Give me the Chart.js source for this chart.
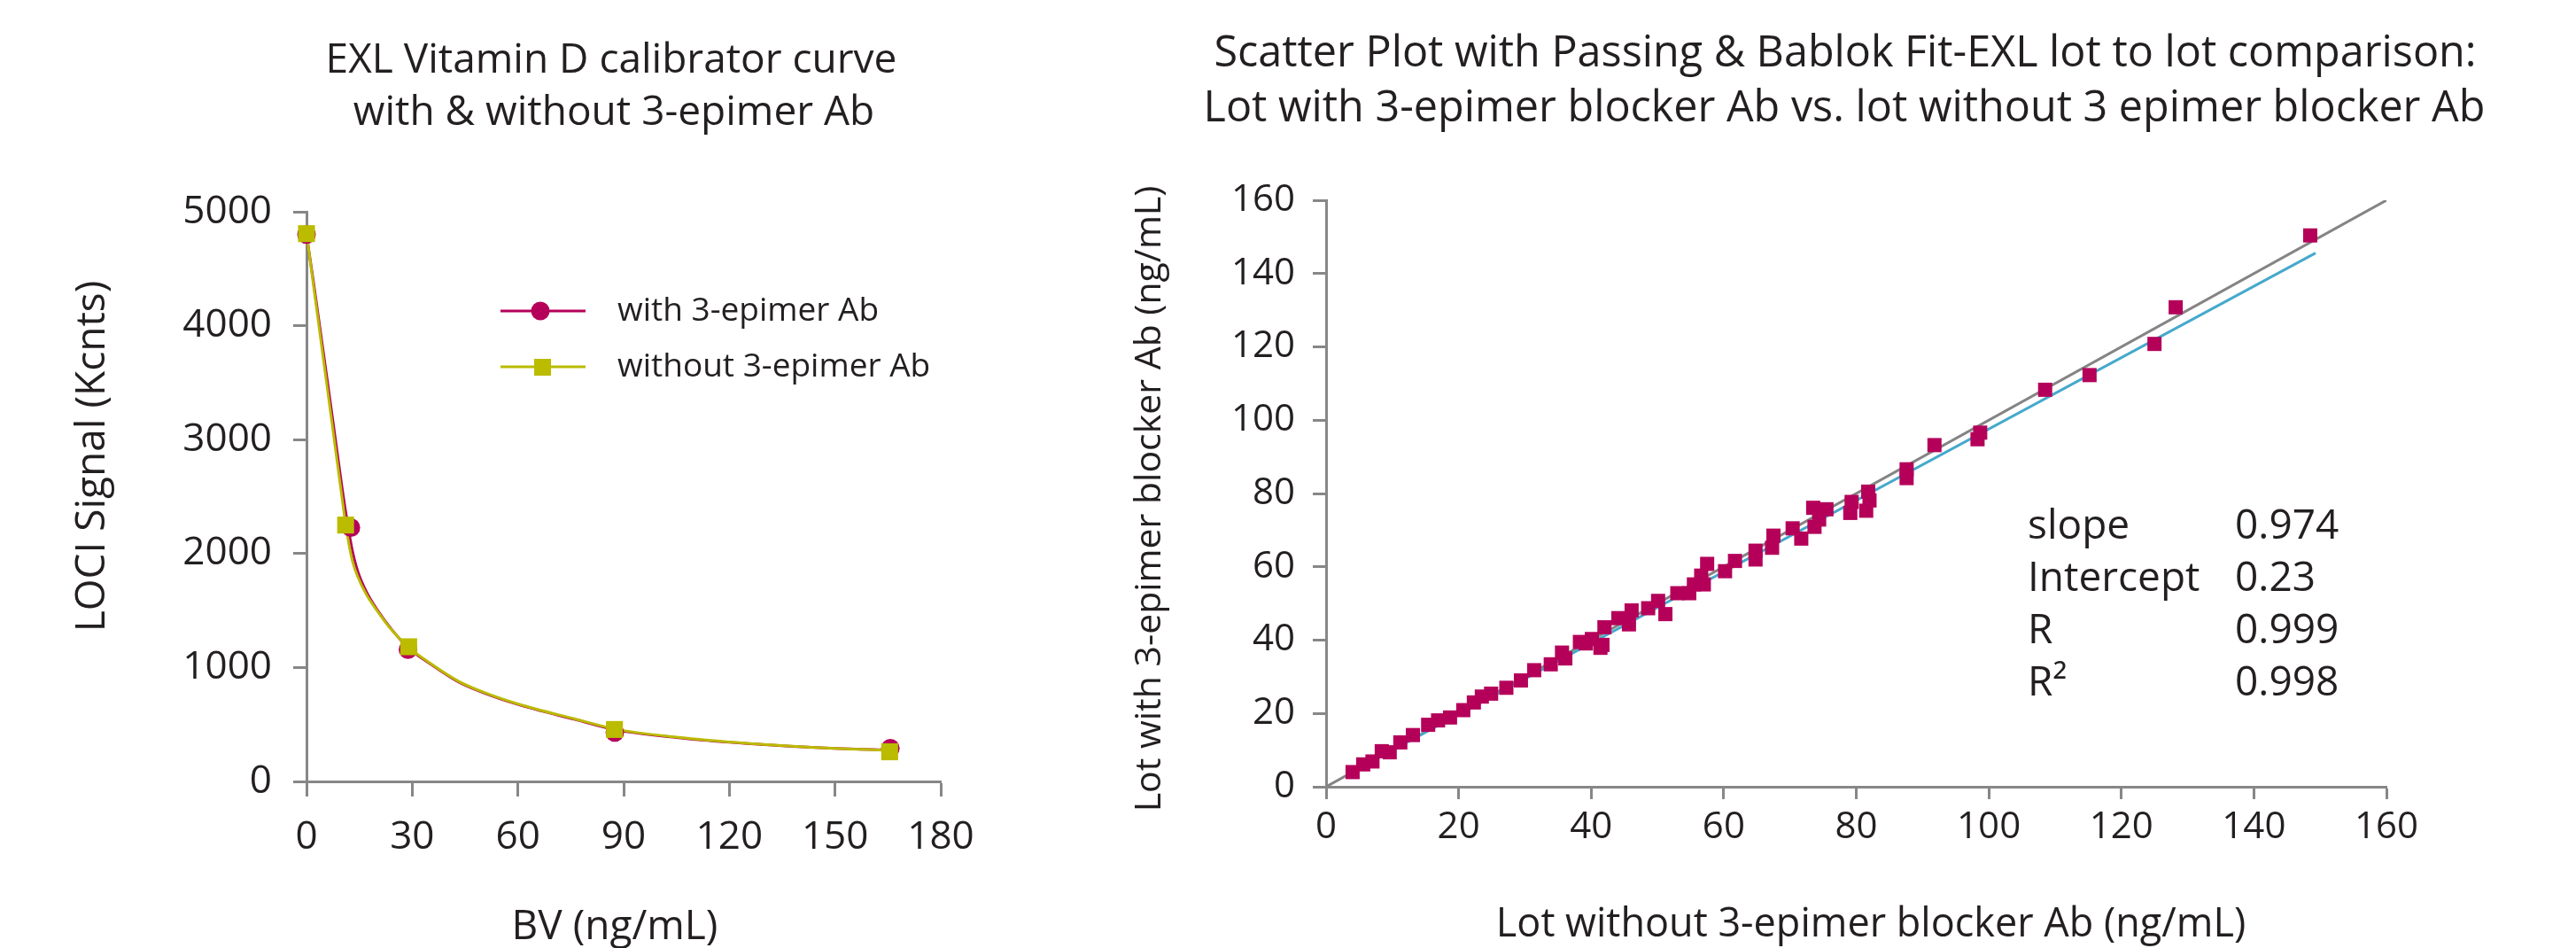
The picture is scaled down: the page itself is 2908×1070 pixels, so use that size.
<!DOCTYPE html>
<html>
<head>
<meta charset="utf-8">
<title>EXL Vitamin D – calibrator curve and lot to lot comparison</title>
<script src="https://cdn.jsdelivr.net/npm/chart.js@4.4.1/dist/chart.umd.min.js"></script>
<style>
  html, body { margin: 0; padding: 0; background: #fff; }
  body { width: 2908px; height: 1070px; position: relative; overflow: hidden; }
  canvas { position: absolute; top: 0; }
  #calChart { left: 0; width: 1200px; height: 1070px; }
  #lotChart { left: 1200px; width: 1708px; height: 1070px; }
</style>
</head>
<body>
<canvas id="calChart" width="1200" height="1070"></canvas>
<canvas id="lotChart" width="1708" height="1070"></canvas>

<script>
// ------------------------------------------------------------
// Data
// ------------------------------------------------------------

// Left: calibrator curve
const calXTicks = [0, 30, 60, 90, 120, 150, 180];
const calYTicks = [0, 1000, 2000, 3000, 4000, 5000];

const bvWith        = [0, 12.6, 28.8, 87.5, 165.7];
const signalWith    = [4800, 2228, 1157, 429, 292];
const bvWithout     = [0, 11.1, 29.0, 87.4, 165.5];
const signalWithout = [4808, 2250, 1182, 456, 260];

// fitted curves as drawn in the reference
const fitBv      = [0, 2, 4, 6, 8, 10, 11, 12, 13, 14.5, 17, 20, 24, 29, 35, 43, 50, 60, 76, 88, 105, 125, 150, 166];
const fitWith    = [4800, 4380, 3940, 3500, 3050, 2600, 2390, 2200, 2030, 1850, 1665, 1510, 1340, 1170, 1035, 876, 781, 676, 546, 452, 384, 332, 289, 276];
const fitWithout = [4810, 4350, 3890, 3430, 2970, 2510, 2280, 2090, 1940, 1800, 1640, 1500, 1335, 1178, 1040, 882, 786, 680, 550, 458, 388, 334, 290, 274];

// Right: lot to lot comparison
const lotTicks = [0, 20, 40, 60, 80, 100, 120, 140, 160];

const lotWithout = [4.0, 5.6, 7.0, 8.4, 9.6, 11.2, 13.1, 15.4, 16.9, 18.7, 20.7, 22.3, 23.5, 24.9, 27.2,
  29.4, 31.4, 33.9, 35.6, 36.1, 38.3, 39.2, 40.1, 41.4, 41.7, 42.0, 44.1, 45.7, 46.1, 48.6, 50.1, 51.2,
  53.0, 54.8, 55.5, 56.6, 57.0, 57.5, 60.2, 61.7, 64.8, 64.8, 67.3, 67.5, 70.4, 71.7, 73.5, 73.7, 74.4,
  75.5, 79.1, 79.3, 81.5, 81.8, 82.0, 87.6, 87.6, 91.8, 98.3, 98.7, 108.5, 115.2, 125.0, 128.2, 148.5];
const lotWith = [4.0, 6.1, 6.9, 9.7, 9.4, 12.1, 14.1, 16.9, 18.1, 18.9, 20.9, 23.0, 24.6, 25.4, 27.0,
  29.0, 31.8, 33.4, 36.6, 35.0, 39.5, 39.1, 40.3, 37.9, 38.7, 43.5, 46.0, 44.3, 48.1, 48.7, 50.7, 47.1,
  52.8, 52.8, 55.2, 57.6, 55.2, 60.8, 58.8, 61.6, 64.4, 62.0, 65.2, 68.5, 70.5, 67.7, 76.1, 70.9, 72.9,
  75.7, 74.7, 77.7, 75.3, 80.5, 78.1, 86.6, 84.2, 93.2, 94.8, 96.6, 108.3, 112.3, 120.8, 130.8, 150.4];

const identityX = [0, 160];
const identityY = [0, 160];
const pbFitX    = [4, 149.3];
const pbFitY    = [4.1, 145.6];

const statLabels = ['slope', 'Intercept', 'R', 'R\u00B2'];
const statValues = ['0.974', '0.23', '0.999', '0.998'];

// ------------------------------------------------------------
const FONT  = "'Open Sans', 'Noto Sans', sans-serif";
const TEXT  = '#231f20';
const AXIS  = '#878787';
const BERRY = '#b5005a';
const LIME  = '#bbbb00';
const GREY  = '#848484';
const CYAN  = '#45a9cc';

Chart.defaults.font.family = FONT;
Chart.defaults.color = TEXT;

const pts = (xs, ys) => xs.map((x, i) => ({ x, y: ys[i] }));

function axis(ticks, tickLen, size, pad, extra) {
  return Object.assign({
    type: 'linear',
    min: ticks[0],
    max: ticks[ticks.length - 1],
    afterBuildTicks: s => { s.ticks = ticks.map(v => ({ value: v })); },
    grid: { drawOnChartArea: false, drawTicks: true, tickLength: tickLen, tickWidth: 3, tickColor: AXIS },
    border: { display: true, color: AXIS, width: 3 },
    ticks: { padding: pad, font: { size }, color: TEXT, autoSkip: false, maxRotation: 0, callback: v => String(v) },
  }, extra);
}

// free text on the canvas (titles, axis titles, stats) + optional extra drawing
function textLayer(items, extra) {
  return {
    id: 'textLayer',
    afterDraw(chart) {
      const ctx = chart.ctx;
      ctx.save();
      if (extra) extra(ctx);
      ctx.fillStyle = TEXT;
      items.forEach(t => {
        ctx.save();
        ctx.font = `${t.size}px ${FONT}`;
        ctx.textAlign = t.align || 'left';
        ctx.textBaseline = t.baseline || 'alphabetic';
        ctx.translate(t.x, t.y);
        if (t.rotate) ctx.rotate(t.rotate);
        ctx.fillText(t.text, 0, 0);
        ctx.restore();
      });
      ctx.restore();
    }
  };
}

document.addEventListener('DOMContentLoaded', () => {
  renderCalibrator();
  renderLotComparison();
});

function renderCalibrator() {
  const drawLegend = ctx => {
    ctx.lineWidth = 3;
    // with 3-epimer Ab
    ctx.strokeStyle = BERRY;
    ctx.beginPath(); ctx.moveTo(565, 351); ctx.lineTo(661, 351); ctx.stroke();
    ctx.fillStyle = BERRY;
    ctx.beginPath(); ctx.arc(610, 351, 10.5, 0, Math.PI * 2); ctx.fill();
    // without 3-epimer Ab
    ctx.strokeStyle = LIME;
    ctx.beginPath(); ctx.moveTo(565, 414); ctx.lineTo(661, 414); ctx.stroke();
    ctx.fillStyle = LIME;
    ctx.fillRect(603, 405, 19, 19);
    ctx.fillStyle = TEXT;
    ctx.font = `37px ${FONT}`;
    ctx.textAlign = 'left';
    ctx.textBaseline = 'middle';
    ctx.fillText('with 3-epimer Ab', 697, 351);
    ctx.fillText('without 3-epimer Ab', 697, 414);
  };

  new Chart(document.getElementById('calChart'), {
    type: 'scatter',
    data: {
      datasets: [
        { label: 'without 3-epimer Ab', data: pts(bvWithout, signalWithout), pointStyle: 'rect',
          pointRadius: 13.5, backgroundColor: LIME, borderWidth: 0, order: 0, clip: false },
        { label: 'with 3-epimer Ab', data: pts(bvWith, signalWith), pointStyle: 'circle',
          pointRadius: 10.5, backgroundColor: BERRY, borderWidth: 0, order: 1, clip: false },
        { label: 'fit without', data: pts(fitBv, fitWithout), showLine: true, borderColor: LIME,
          borderWidth: 3, pointRadius: 0, cubicInterpolationMode: 'monotone', order: 2 },
        { label: 'fit with', data: pts(fitBv, fitWith), showLine: true, borderColor: BERRY,
          borderWidth: 3, pointRadius: 0, cubicInterpolationMode: 'monotone', order: 3 },
      ]
    },
    options: {
      responsive: false, animation: false, events: [],
      layout: { padding: { left: 0, top: 239, right: 138, bottom: 0 } },
      plugins: { legend: { display: false }, tooltip: { enabled: false } },
      scales: {
        x: axis(calXTicks, 17, 44, 20, { afterFit: s => { s.height = 188; } }),
        y: axis(calYTicks, 15, 44, 24, { afterFit: s => { s.width = 346; } }),
      }
    },
    plugins: [textLayer([
      { text: 'EXL Vitamin D calibrator curve', x: 690, y: 82, size: 46, align: 'center' },
      { text: 'with & without 3-epimer Ab',    x: 693, y: 141, size: 46, align: 'center' },
      { text: 'BV (ng/mL)', x: 694, y: 1060, size: 46, align: 'center' },
      { text: 'LOCI Signal (Kcnts)', x: 105, y: 515, size: 46, align: 'center', baseline: 'middle', rotate: -Math.PI / 2 },
    ], drawLegend)]
  });
}

function renderLotComparison() {
  const ox = 1200; // canvas offset on the page
  const statItems = [];
  statLabels.forEach((l, i) => {
    statItems.push({ text: l,             x: 2289 - ox, y: 608 + i * 59, size: 46 });
    statItems.push({ text: statValues[i], x: 2523 - ox, y: 608 + i * 59, size: 46 });
  });

  new Chart(document.getElementById('lotChart'), {
    type: 'scatter',
    data: {
      datasets: [
        { label: 'samples', data: pts(lotWithout, lotWith), pointStyle: 'rect', pointRadius: 11.3,
          backgroundColor: BERRY, borderWidth: 0, order: 0, clip: false },
        { label: 'Passing & Bablok fit', data: pts(pbFitX, pbFitY), showLine: true, borderColor: CYAN,
          borderWidth: 3, pointRadius: 0, order: 1 },
        { label: 'identity', data: pts(identityX, identityY), showLine: true, borderColor: GREY,
          borderWidth: 3, pointRadius: 0, order: 2 },
      ]
    },
    options: {
      responsive: false, animation: false, events: [],
      layout: { padding: { left: 0, top: 226, right: 214, bottom: 0 } },
      plugins: { legend: { display: false }, tooltip: { enabled: false } },
      scales: {
        x: axis(lotTicks, 14, 42, 7, { afterFit: s => { s.height = 182; } }),
        y: axis(lotTicks, 15, 42, 20, { afterFit: s => { s.width = 297; } }),
      }
    },
    plugins: [textLayer([
      { text: 'Scatter Plot with Passing & Bablok Fit-EXL lot to lot comparison:', x: 2083 - ox, y: 75, size: 48.5, align: 'center' },
      { text: 'Lot with 3-epimer blocker Ab vs. lot without 3 epimer blocker Ab',  x: 2082 - ox, y: 137, size: 48.5, align: 'center' },
      { text: 'Lot without 3-epimer blocker Ab (ng/mL)', x: 2112 - ox, y: 1057, size: 45, align: 'center' },
      { text: 'Lot with 3-epimer blocker Ab (ng/mL)', x: 1298 - ox, y: 563, size: 41, align: 'center', baseline: 'middle', rotate: -Math.PI / 2 },
    ].concat(statItems))]
  });
}
</script>
</body>
</html>
